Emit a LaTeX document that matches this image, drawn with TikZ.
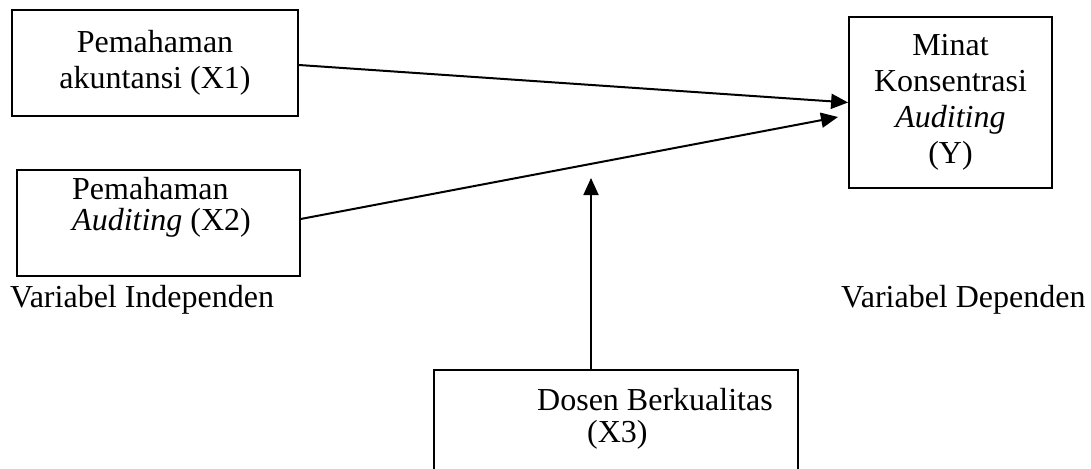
\documentclass[tikz,border=0pt]{standalone}
\usepackage{fontspec}
\setmainfont{Liberation Serif}
\usetikzlibrary{arrows.meta,positioning}
\tikzset{
  box/.style={draw,line width=1.8pt,inner sep=0pt},
  txt/.style={inner sep=0pt,font=\fontsize{32}{36}\selectfont},
  arr/.style={-{Triangle[length=17pt,width=15pt]},line width=2pt}
}
\begin{document}
\begin{tikzpicture}[x=1pt,y=-1pt,line join=miter]
\clip (0,0) rectangle (1091,468);
% boxes
\node[box,txt,align=center,minimum width=286pt,minimum height=106pt] (x1) at (155,63) {Pemahaman\\akuntansi (X1)};
\node[box,line width=1.3pt,minimum width=283pt,minimum height=106pt] (x2) at (158.5,223) {};
\node[txt,align=left,anchor=north west,font=\fontsize{32}{31}\selectfont] (x2txt) at (72,177.5) {Pemahaman\\\textit{Auditing} (X2)};
\node[box,txt,align=center,minimum width=203pt,minimum height=171pt] (y) at (950.5,102.5) {Minat\\Konsentrasi\\\textit{Auditing}\\(Y)};
\node[box,minimum width=364pt,minimum height=140pt] (x3) at (616,440) {};
\node[txt,align=left,anchor=north west,font=\fontsize{32}{32}\selectfont] (x3txt) at (537,388.5) {Dosen Berkualitas\\\hspace*{50pt}(X3)};
% labels
\node[txt,anchor=base west] (indep) at (10,307) {Variabel Independen};
\node[txt,anchor=base west] (dep) at (841,307) {Variabel Dependen};
% arrows
\coordinate (tipb) at (838,117);
\coordinate (tipc) at (591,178);
\draw[arr] ([yshift=-2pt]x1.east) -- (y.west);
\draw[arr] ([yshift=4pt]x2.east) -- (tipb);
\draw[arr,line width=1.8pt] ([xshift=-25pt]x3.north) -- (tipc);
\end{tikzpicture}
\end{document}
